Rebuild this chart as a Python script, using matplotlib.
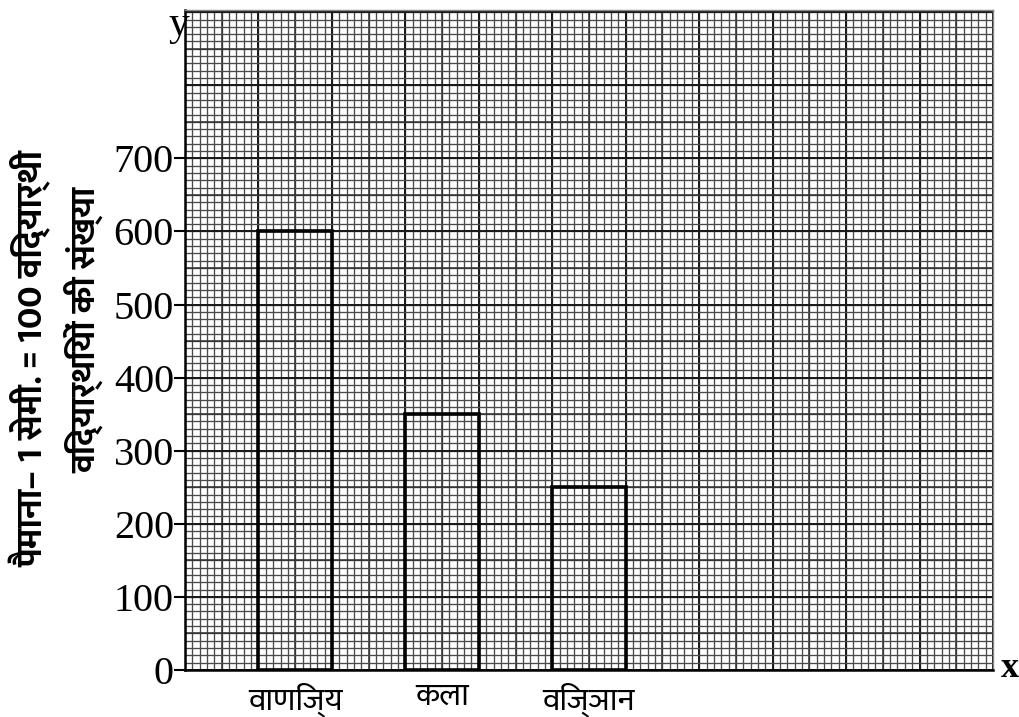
import matplotlib
matplotlib.use('Agg')
import matplotlib.pyplot as plt
import numpy as np

# data
vargon = ['वाणिज्य', 'कला', 'विज्ञान']
vidyarthi = [600, 350, 250]
bar_x = [1.5, 3.5, 5.5]          # centres in cm along x
y_ticks = [0, 100, 200, 300, 400, 500, 600, 700]

hindi_fam = ['Ek Mukta', 'FreeSans', 'DejaVu Sans']

fig = plt.figure(figsize=(10.2, 7.17), dpi=100)
ax = fig.add_axes([0.1814, 0.0656, 0.7921, 0.9204])
ax.set_xlim(0, 11)
ax.set_ylim(0, 903)

# graph paper: mm lines, half-cm lines, cm lines
for v in np.arange(0, 11.01, 0.1):
    ax.axvline(v, color='#4a4a4a', lw=0.95, zorder=0)
for v in np.arange(0, 11.01, 0.5):
    ax.axvline(v, color='#303030', lw=1.1, zorder=0)
for v in np.arange(0, 11.01, 1):
    ax.axvline(v, color='#1a1a1a', lw=1.4, zorder=0)
for h in np.arange(0, 903, 10):
    ax.axhline(h, color='#4a4a4a', lw=0.95, zorder=0)
for h in np.arange(0, 903, 50):
    ax.axhline(h, color='#303030', lw=1.1, zorder=0)
for h in np.arange(0, 903, 100):
    ax.axhline(h, color='#1a1a1a', lw=1.4, zorder=0)

ax.bar(bar_x, vidyarthi, width=1.0, fill=False, edgecolor='black', linewidth=2.6, zorder=3)

ax.set_yticks(y_ticks)
ax.set_yticklabels([str(t) for t in y_ticks], family='Liberation Serif', fontsize=29)
ax.tick_params(axis='y', length=8, width=1.5, pad=0, direction='out')
ax.set_xticks(bar_x)
ax.set_xticklabels(vargon, family=hindi_fam, fontsize=23, fontweight='normal')
ax.tick_params(axis='x', length=0, pad=9)

for s in ['left', 'bottom']:
    ax.spines[s].set_linewidth(1.8)
for s in ['top', 'right']:
    ax.spines[s].set_linewidth(1.0)
    ax.spines[s].set_color('#888888')

fig.text(0.175, 0.965, 'y', family='Liberation Serif', fontsize=30, ha='center', va='center')
fig.text(0.990, 0.068, 'x', family='Liberation Serif', fontsize=26, ha='center', va='center', fontweight='bold')

fig.text(0.030, 0.50, 'पैमाना– 1 सेमी. = 100 विद्यार्थी', family=hindi_fam, fontsize=26,
         fontweight='bold', rotation=90, ha='center', va='center')
fig.text(0.082, 0.54, 'विद्यार्थियों की संख्या', family=hindi_fam, fontsize=25,
         fontweight='bold', rotation=90, ha='center', va='center')

plt.savefig('out.png', dpi=100)
